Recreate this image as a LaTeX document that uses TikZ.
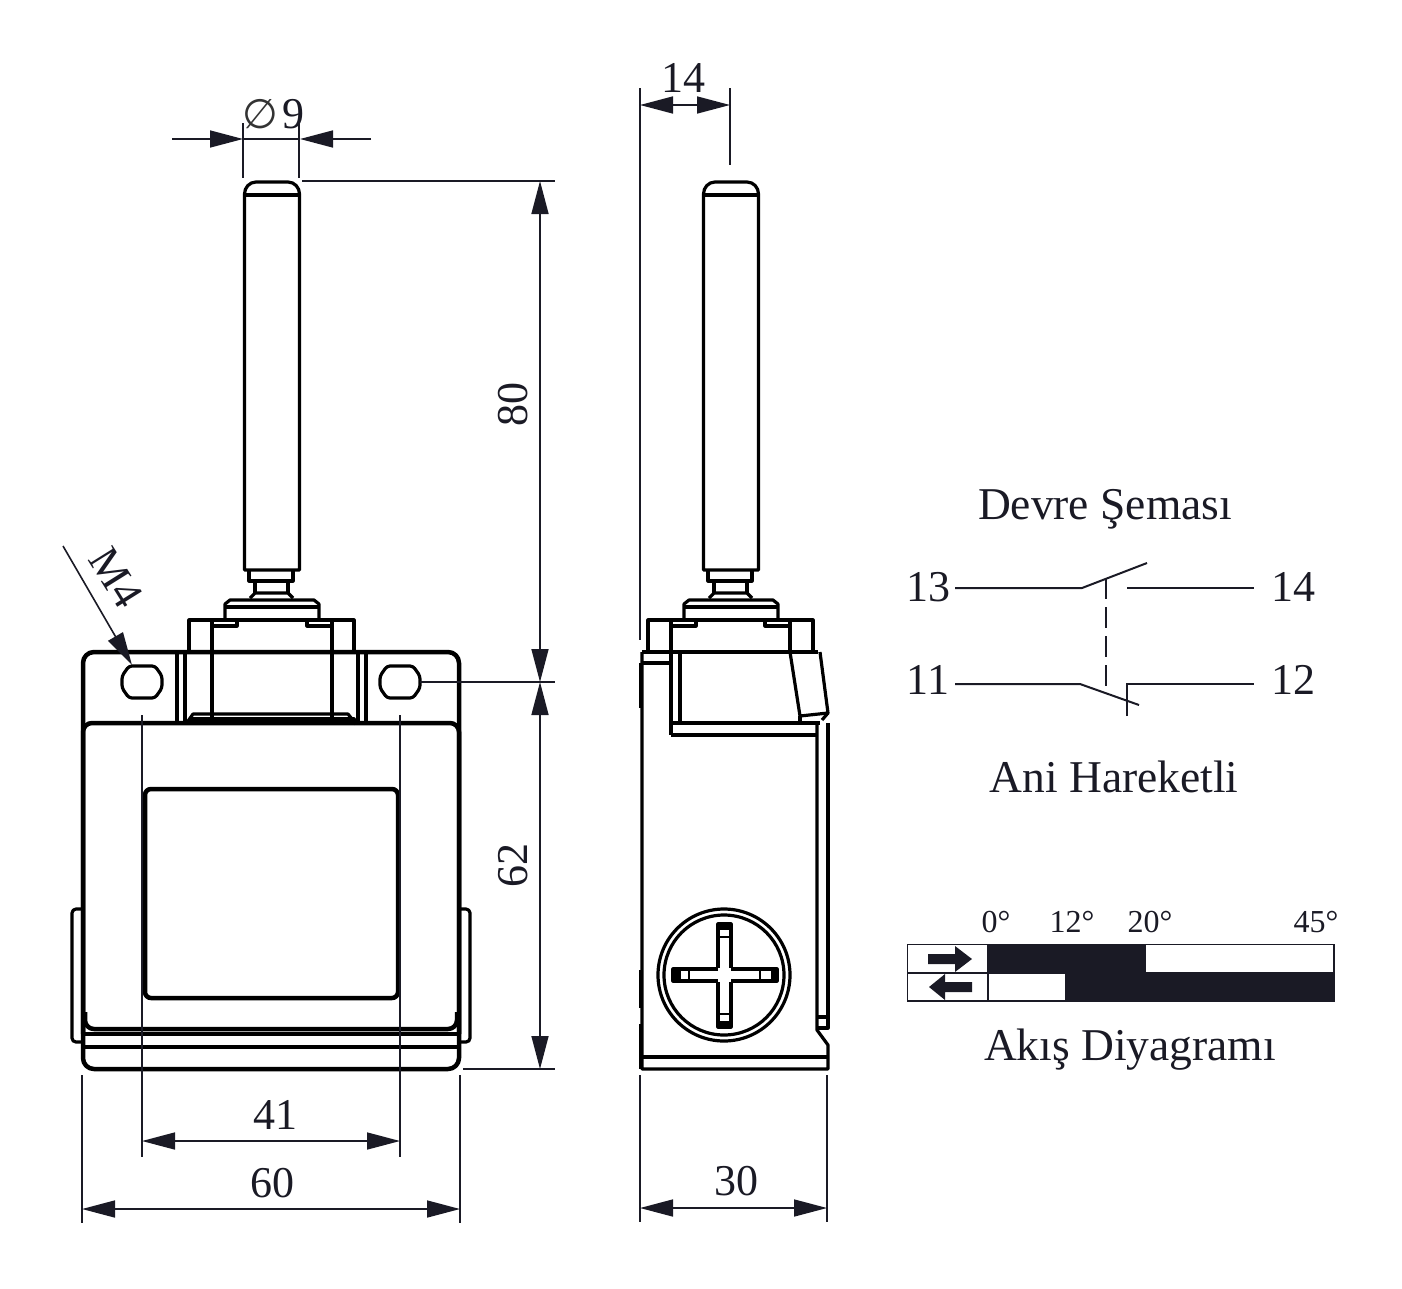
\documentclass[tikz,border=0pt]{standalone}
\usepackage{xcolor}
\usepackage{fontspec}
\setmainfont{Liberation Serif}
\newfontfamily\symfont{DejaVu Sans}
\usetikzlibrary{arrows.meta}
\definecolor{inkdark}{HTML}{1A1A25}
\tikzset{
    heavy/.style={line width=4.5pt, line join=round},
    part/.style={line width=3.2pt, line join=round},
    fine/.style={line width=1.8pt},
    dimline/.style={line width=1.6pt, color=inkdark, >={Triangle[length=33pt,width=17pt]}},
    dimtext/.style={font=\fontsize{44}{46}\selectfont, text=inkdark, inner sep=0pt},
    titletext/.style={font=\fontsize{45.5}{48}\selectfont, text=inkdark, inner sep=0pt},
    smalltext/.style={font=\fontsize{32}{34}\selectfont, text=inkdark, inner sep=0pt},
    wire/.style={line width=2pt, color=inkdark}
}
\begin{document}
\begin{tikzpicture}[x=1pt,y=-1pt]
    \useasboundingbox (0,0) rectangle (1402,1288);

    % Rod, stem and plunger, the same in both views
    \foreach \dx in {0,459} {
        \begin{scope}[xshift=\dx pt]
            \draw[part] (244.5,570) -- (244.5,194) to[out=90,in=180] (256,182) -- (288,182) to[out=0,in=90] (299.5,194) -- (299.5,570) -- cycle;
            \draw[part] (244.5,195) -- (299.5,195);
            \draw[part] (249,570) -- (249,581) -- (293,581) -- (293,570);
            \draw[part] (255,581) -- (255,593) (288,581) -- (288,593);
            \draw[part] (250,598) -- (255,593) -- (288,593) -- (293,598);
            \draw[part] (225,619) -- (225,604) -- (230,600) -- (314,600) -- (319,604) -- (319,619);
            \draw[part] (225,607) -- (319,607);
        \end{scope}
    }

    % Front view: body
    \draw[heavy,rounded corners=11pt] (83,1069) rectangle (459,652);
    \draw[heavy,rounded corners=9pt] (83,1034) -- (83,723) -- (459,723) -- (459,1034);
    \draw[heavy,rounded corners=9pt] (85,1012) -- (85,1029) -- (457,1029) -- (457,1012);
    \draw[part] (83,1034) -- (459,1034);
    \draw[part] (83,1047) -- (459,1047);
    \draw[heavy,rounded corners=6pt] (145,789) rectangle (398,998);
    \draw[part,rounded corners=4pt] (83,909) -- (72,909) -- (72,1042) -- (83,1042);
    \draw[part,rounded corners=4pt] (459,909) -- (470,909) -- (470,1042) -- (459,1042);

    % Front view: mounting holes
    \foreach \hx in {142,400} {
        \draw[part,rounded corners=3pt,xshift=\hx pt] (-13,666) -- (13,666) -- (20,676) -- (20,688) -- (13,698) -- (-13,698) -- (-20,688) -- (-20,676) -- cycle;
    }

    % Front view: head
    \draw[part] (177,652) -- (177,723) (185,652) -- (185,723);
    \draw[part] (358,652) -- (358,723) (366,652) -- (366,723);
    \draw[part] (189,652) -- (189,620) -- (354,620) -- (354,652);
    \draw[part] (212,620) -- (212,719) (332,620) -- (332,719);
    \draw[part] (212,626) -- (237,626) -- (237,620);
    \draw[part] (332,626) -- (307,626) -- (307,620);
    \draw[part] (186,724) -- (193,714) -- (348,714) -- (356,724);
    \draw[part] (190,724) -- (190,719) -- (354,719) -- (354,724);

    % Side view: head
    \draw[part] (648,652) -- (648,620) -- (813,620) -- (813,652);
    \draw[part] (671,620) -- (671,652) (790,620) -- (790,652);
    \draw[part] (671,626) -- (696,626) -- (696,620);
    \draw[part] (790,626) -- (765,626) -- (765,620);

    % Side view: body
    \draw[heavy] (642,652) -- (818,652);
    \draw[part] (642,652) -- (642,1069) -- (828,1069) -- (828,1045) -- (817,1030) -- (817,725);
    \draw[heavy] (641,663) -- (641,708);
    \draw[heavy] (641,970) -- (641,1008);
    \draw[heavy] (641,1024) -- (641,1069);
    \draw[part] (642,663) -- (671,663);
    \draw[heavy] (671,652) -- (671,735);
    \draw[part] (680,652) -- (680,722);
    \draw[part] (671,723) -- (820,723);
    \draw[part] (671,735) -- (817,735);
    \draw[part] (790,652) -- (800,716) -- (828,713) -- (820,652);
    \draw[part] (800,716) -- (800,723);
    \draw[part] (828,713) -- (822,720);
    \draw[part] (828,723) -- (828,1028) -- (817,1028);
    \draw[heavy] (828,790) -- (828,998);
    \draw[part] (817,1017) -- (828,1017);
    \draw[part] (642,1057) -- (828,1057);

    % Side view: cable gland
    \draw[part] (724,975) circle (66);
    \draw[part] (724,975) circle (60);
    \draw[part] (718,968) -- (718,924) -- (731,924) -- (731,968);
    \draw[part] (718,982) -- (718,1027) -- (731,1027) -- (731,982);
    \draw[part] (718,969) -- (673,969) -- (673,981) -- (718,981);
    \draw[part] (731,969) -- (777,969) -- (777,981) -- (731,981);
    \fill (717,923) rectangle (732,930);
    \fill (717,1021) rectangle (732,1028);
    \fill (672,968) rectangle (681,982);
    \fill (771,968) rectangle (778,982);
    \draw[fine] (718,937) -- (731,937) (718,1014) -- (731,1014);
    \draw[fine] (689,969) -- (689,981) (760,969) -- (760,981);

    % Extension lines
    \draw[fine,color=inkdark] (243,123) -- (243,178);
    \draw[fine,color=inkdark] (299,123) -- (299,178);
    \draw[fine,color=inkdark] (302,181) -- (555,181);
    \draw[fine,color=inkdark] (420,682) -- (555,682);
    \draw[fine,color=inkdark] (463,1069) -- (555,1069);
    \draw[fine,color=inkdark] (142,715) -- (142,1157);
    \draw[fine,color=inkdark] (400,715) -- (400,1157);
    \draw[fine,color=inkdark] (82,1075) -- (82,1223);
    \draw[fine,color=inkdark] (460,1075) -- (460,1223);
    \draw[fine,color=inkdark] (640,88) -- (640,640);
    \draw[fine,color=inkdark] (730,88) -- (730,165);
    \draw[fine,color=inkdark] (640,1075) -- (640,1222);
    \draw[fine,color=inkdark] (827,1075) -- (827,1222);

    % Dimension lines
    \draw[dimline,->] (172,139) -- (243,139);
    \draw[dimline,->] (371,139) -- (300,139);
    \draw[dimline] (243,139) -- (300,139);
    \draw[dimline,<->] (640,105) -- (730,105);
    \draw[dimline,<->] (540,181) -- (540,682);
    \draw[dimline,<->] (540,682) -- (540,1069);
    \draw[dimline,<->] (142,1141) -- (400,1141);
    \draw[dimline,<->] (82,1209) -- (460,1209);
    \draw[dimline,<->] (640,1208) -- (827,1208);
    \draw[dimline,->] (63,546) -- (132,665);

    % Dimension values
    \node[dimtext,text=black!80] (dimphi) at (260,114) {\symfont\fontsize{41}{43}\selectfont ∅};
    \node[dimtext] (dimnine) at (293,114) {9};
    \node[dimtext] (dimfourteen) at (683,78) {14};
    \node[dimtext,rotate=90] (dimeighty) at (513,404) {80};
    \node[dimtext,rotate=90] (dimsixtytwo) at (513,865) {62};
    \node[dimtext] (dimfortyone) at (275,1115) {41};
    \node[dimtext] (dimsixty) at (272,1183) {60};
    \node[dimtext] (dimthirty) at (736,1181) {30};
    \node[dimtext,rotate=-58] (dimthread) at (116,578) {M4};

    % Circuit diagram
    \node[titletext] (circtitle) at (1105,509) {Devre Şeması};
    \node[dimtext] (term13) at (928,587) {13};
    \node[dimtext] (term14) at (1293,587) {14};
    \node[dimtext] (term11) at (928,680) {11};
    \node[dimtext] (term12) at (1293,680) {12};
    \node[titletext] (circnote) at (1114,777) {Ani Hareketli};
    \coordinate (lead13) at (955,588);
    \coordinate (pole13) at (1082,588);
    \coordinate (tip13) at (1147,563);
    \coordinate (fix14) at (1127,588);
    \coordinate (lead14) at (1254,588);
    \coordinate (lead11) at (955,684);
    \coordinate (pole11) at (1080,684);
    \coordinate (tip11) at (1139,705);
    \coordinate (fix12) at (1127,684);
    \coordinate (stop12) at (1127,716);
    \coordinate (lead12) at (1254,684);
    \draw[wire] (lead13) -- (pole13) -- (tip13);
    \draw[wire] (fix14) -- (lead14);
    \draw[wire] (lead11) -- (pole11) -- (tip11);
    \draw[wire] (stop12) -- (fix12) -- (lead12);
    \draw[wire,dash pattern=on 21pt off 8pt] (1106,578) -- (1106,693);

    % Flow chart
    \foreach \lbl/\lx in {0/996,12/1072,20/1150,45/1316} {
        \node[smalltext] (deg\lbl) at (\lx,922) {\lbl°};
    }
    \fill[inkdark] (988,944) rectangle (1146,973);
    \fill[inkdark] (1065,973) rectangle (1334,1001);
    \draw[fine,color=inkdark] (907.5,944.5) rectangle (1334,1001);
    \draw[fine,color=inkdark] (907.5,973) -- (1334,973);
    \draw[fine,color=inkdark] (988,944.5) -- (988,1001);
    \fill[inkdark] (928,954) -- (955,954) -- (955,946) -- (972,959) -- (955,972) -- (955,964) -- (928,964) -- cycle;
    \fill[inkdark] (972,982) -- (945,982) -- (945,974) -- (929,987) -- (945,1000) -- (945,992) -- (972,992) -- cycle;
    \node[titletext] (flowtitle) at (1130,1050) {Akış Diyagramı};
\end{tikzpicture}
\end{document}
